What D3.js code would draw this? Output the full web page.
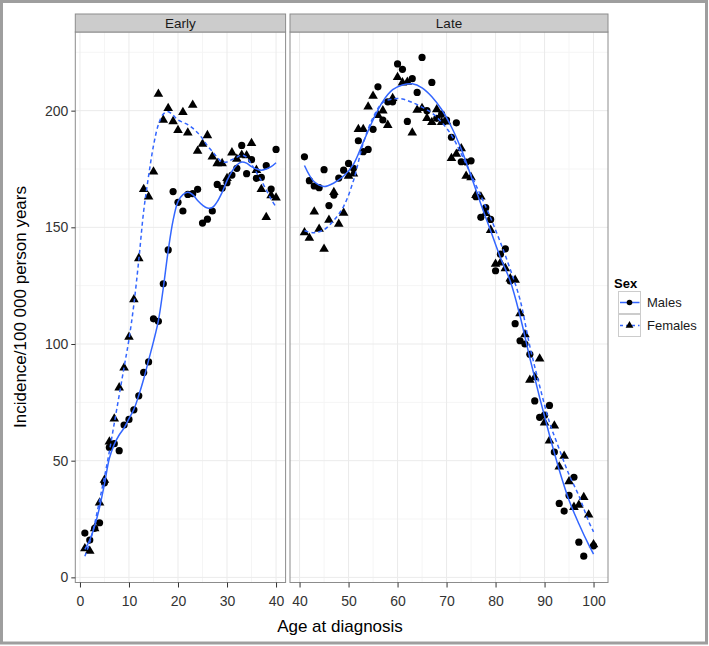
<!DOCTYPE html>
<html>
<head>
<meta charset="utf-8">
<script src="https://cdn.jsdelivr.net/npm/d3@7"></script>
<style>
  body { margin: 0; background: #fff; }
  svg { display: block; font-family: "Liberation Sans", Arial, sans-serif; }
</style>
</head>
<body>
<svg id="chart" width="709" height="646"></svg>
<script>
// incidence per 100 000, one value per age (index 0 = age 1)
var maleIncidence = [
  19, 16, 21, 23.4, 40.5, 55.7, 57.3, 54.3, 65.3, 67.7,
  71.8, 77.8, 87.8, 92.3, 110.8, 109.7, 125.8, 140.3, 165.3, 160.7,
  157, 164.1, 164.4, 166.3, 151.8, 153.5, 157, 168.4, 166.7, 169.1,
  172.4, 175.3, 185.1, 173, 179, 171, 171.4, 176.4, 166.4, 183.4,
  180.2, 170, 167.7, 167, 174.7, 159.3, 163.8, 171.1, 174.5, 177.4,
  175.3, 187.1, 182.4, 183.4, 192, 210.2, 196, 203.8, 203.8, 220,
  217.7, 195.4, 213.7, 207.8, 222.8, 200, 212.1, 196.7, 198.5, 196,
  188.6, 194.8, 178.1, 178, 178.5, 163.1, 154.3, 158.4, 153.4, 131.4,
  138.5, 140.8, 127, 108.7, 101.4, 100, 95.6, 75.6, 68.6, 69.5,
  73.7, 53.7, 31.7, 28.4, 35.1, 42.9, 15.1, 9.1, null, 13.5
];
var femaleIncidence = [
  12.4, 11.3, 21, 32, 41.7, 58.1, 68, 81.3, 89.8, 103,
  119.1, 136.7, 166.3, 163.1, 173.8, 207.1, 196, 201, 195.4, 191.6,
  199.3, 190.5, 202.4, 182.7, 185.7, 189.4, 180.2, 177.4, 177.4, 171,
  182, 179.3, 181, 180.8, 186, 174.5, 166.3, 154.3, 163.7, 162.7,
  147.8, 145.4, 156.7, 149.3, 140.7, 153.1, 165, 151.4, 156.2, 172,
  173, 192, 192, 201.7, 206.3, 198, 200, 193.8, 205.3, 214.3,
  212, 212.3, 190.5, 200.3, 201, 196.7, 195, 200.5, 195, 195.2,
  179.6, 181.4, 183.8, 172, 171.4, 163.8, 163.1, 156, 148.8, 134.3,
  134.8, 132.4, 128, 127.4, 113.1, 104.1, 84.6, 85.7, 93.7, 66.3,
  58.5, 65, 47.4, 52, 41.1, 30.1, 31, 34.3, 26.8, 14.1
];

// loess curves
var earlySmoothAges = [1, 2, 3, 4, 5, 6, 7, 8, 9, 10, 11, 12, 13, 14, 15, 16, 17, 18, 19, 20,
  21, 22, 23, 24, 25, 26, 27, 28, 29, 30, 31, 32, 33, 34, 35, 36, 37, 38, 39, 40];
var earlyMaleSmooth = [12, 16, 22, 30, 40, 51, 57, 61, 64, 68, 72, 78, 85, 93, 101, 110, 124, 140, 153, 161,
  164, 165, 164, 161.5, 159.5, 158.3, 158.5, 161, 165, 170, 174, 176.7, 178, 177.5, 176, 175, 174.5, 175, 176, 177.7];
var earlyFemaleSmooth = [9, 15, 23, 33, 43, 54, 66, 78, 90, 102, 117, 136, 157, 172, 185, 194, 198.5, 199.5, 198, 196,
  195, 194, 192.5, 190.5, 188, 185, 182.5, 180, 178, 178, 179, 180, 181, 180, 177, 173.5, 170, 166, 162, 158.8];
var lateSmoothAges = [41, 43, 45, 47, 49, 51, 53, 55, 57, 59, 61, 63, 65, 67, 69, 71, 73, 75, 77, 79,
  81, 83, 85, 87, 89, 91, 93, 95, 97, 99, 100];
var lateMaleSmooth = [176.5, 169.5, 167.5, 169, 172, 177, 186.5, 196, 204, 209, 211, 211.5, 209.8, 206, 200.5, 193, 183.5, 172, 160, 148.5,
  137, 127, 112, 94, 77, 61, 46, 33, 23, 14, 10];
var lateFemaleSmooth = [148.5, 147.7, 149, 153, 159, 170, 186, 197, 203.5, 205, 205, 203.5, 201.5, 199, 195, 189.5, 181.5, 172.5, 163.5, 154,
  143.5, 132, 119, 99, 82, 66.5, 55, 44, 35, 24, 19.5];

var panels = ["Early", "Late"];
var sexes = ["Males", "Females"];
var yTicks = [0, 50, 100, 150, 200];
var earlyTicks = [0, 10, 20, 30, 40];
var lateTicks = [40, 50, 60, 70, 80, 90, 100];

var blue = "#3366FF";
var svg = d3.select("#chart");

// outer frame
svg.append("rect")
  .attr("x", 1.5).attr("y", 1.5)
  .attr("width", 705).attr("height", 641.5)
  .attr("fill", "none").attr("stroke", "#9e9e9e").attr("stroke-width", 3);

var panelTop = 32, panelBottom = 582.5;
var y = d3.scaleLinear().domain([-2.2, 233.7]).range([panelBottom, panelTop]);

var panelDefs = [
  {name: panels[0], x: d3.scaleLinear().domain([-0.95, 41.95]).range([75.3, 285.6]), from: 1, to: 40,
   ticks: earlyTicks, sAges: earlySmoothAges, sM: earlyMaleSmooth, sF: earlyFemaleSmooth},
  {name: panels[1], x: d3.scaleLinear().domain([38.05, 102.95]).range([290, 608]), from: 41, to: 100,
   ticks: lateTicks, sAges: lateSmoothAges, sM: lateMaleSmooth, sF: lateFemaleSmooth}
];

var tri = d3.symbol().type(d3.symbolTriangle).size(40);
var triSmall = d3.symbol().type(d3.symbolTriangle).size(26);

panelDefs.forEach(function(p) {
  var x = p.x;
  var x0 = x.range()[0], x1 = x.range()[1];
  var g = svg.append("g");

  g.append("rect").attr("x", x0).attr("y", panelTop).attr("width", x1 - x0).attr("height", panelBottom - panelTop)
    .attr("fill", "#fff");

  // minor grid
  var minorX = [], minorY = [];
  for (var i = 0; i < p.ticks.length - 1; i++) minorX.push((p.ticks[i] + p.ticks[i + 1]) / 2);
  minorX.push(p.ticks[p.ticks.length - 1] + 5);
  for (var j = 0; j < yTicks.length; j++) minorY.push(yTicks[j] + 25);
  g.selectAll(".mx").data(minorX.filter(function(v) { return x(v) > x0 && x(v) < x1; }))
    .enter().append("line")
    .attr("x1", function(d) { return x(d); }).attr("x2", function(d) { return x(d); })
    .attr("y1", panelTop).attr("y2", panelBottom).attr("stroke", "#f5f5f5").attr("stroke-width", 1);
  g.selectAll(".my").data(minorY).enter().append("line")
    .attr("x1", x0).attr("x2", x1)
    .attr("y1", function(d) { return y(d); }).attr("y2", function(d) { return y(d); })
    .attr("stroke", "#f5f5f5").attr("stroke-width", 1);
  // major grid
  g.selectAll(".gx").data(p.ticks).enter().append("line")
    .attr("x1", function(d) { return x(d); }).attr("x2", function(d) { return x(d); })
    .attr("y1", panelTop).attr("y2", panelBottom).attr("stroke", "#ebebeb").attr("stroke-width", 1);
  g.selectAll(".gy").data(yTicks).enter().append("line")
    .attr("x1", x0).attr("x2", x1)
    .attr("y1", function(d) { return y(d); }).attr("y2", function(d) { return y(d); })
    .attr("stroke", "#ebebeb").attr("stroke-width", 1);

  // points
  var males = [], females = [];
  for (var a = p.from; a <= p.to; a++) {
    if (maleIncidence[a - 1] != null) males.push({age: a, v: maleIncidence[a - 1]});
    if (femaleIncidence[a - 1] != null) females.push({age: a, v: femaleIncidence[a - 1]});
  }
  g.selectAll(".m").data(males).enter().append("circle")
    .attr("cx", function(d) { return x(d.age); })
    .attr("cy", function(d) { return y(d.v); })
    .attr("r", 3.6).attr("fill", "#000");
  g.selectAll(".f").data(females).enter().append("path")
    .attr("d", tri)
    .attr("transform", function(d) { return "translate(" + x(d.age) + "," + y(d.v) + ")"; })
    .attr("fill", "#000");

  // smooth lines
  var line = d3.line().curve(d3.curveCatmullRom)
    .x(function(d, i) { return x(p.sAges[i]); })
    .y(function(d) { return y(d); });
  g.append("path").attr("d", line(p.sM)).attr("fill", "none")
    .attr("stroke", blue).attr("stroke-width", 1.5);
  g.append("path").attr("d", line(p.sF)).attr("fill", "none")
    .attr("stroke", blue).attr("stroke-width", 1.5).attr("stroke-dasharray", "4,3");

  // panel border
  g.append("rect").attr("x", x0).attr("y", panelTop).attr("width", x1 - x0).attr("height", panelBottom - panelTop)
    .attr("fill", "none").attr("stroke", "#8c8c8c").attr("stroke-width", 1);

  // strip
  g.append("rect").attr("x", x0).attr("y", 14).attr("width", x1 - x0).attr("height", panelTop - 14)
    .attr("fill", "#cccccc").attr("stroke", "#8c8c8c").attr("stroke-width", 1);
  g.append("text")
    .attr("x", (x0 + x1) / 2).attr("y", 23).attr("dy", "0.36em")
    .attr("text-anchor", "middle").attr("font-size", 13.5).attr("fill", "#1a1a1a")
    .text(p.name);

  // x axis
  var ax = svg.append("g").attr("transform", "translate(0," + panelBottom + ")")
    .call(d3.axisBottom(x).tickValues(p.ticks).tickSize(5).tickPadding(9));
  ax.select(".domain").remove();
  ax.selectAll("line").attr("stroke", "#333");
  ax.selectAll("text").attr("font-size", 14).attr("fill", "#333")
    .attr("font-family", "Liberation Sans, Arial, sans-serif");
});

// y axis
var ay = svg.append("g").attr("transform", "translate(75.3,0)")
  .call(d3.axisLeft(y).tickValues(yTicks).tickSize(4).tickPadding(3));
ay.select(".domain").remove();
ay.selectAll("line").attr("stroke", "#333");
ay.selectAll("text").attr("font-size", 14).attr("fill", "#333")
  .attr("font-family", "Liberation Sans, Arial, sans-serif");

// axis titles
svg.append("text").attr("x", 340).attr("y", 631.5)
  .attr("text-anchor", "middle").attr("font-size", 17).attr("fill", "#000")
  .text("Age at diagnosis");
svg.append("text").attr("transform", "translate(26,307) rotate(-90)")
  .attr("text-anchor", "middle").attr("font-size", 17).attr("fill", "#000")
  .text("Incidence/100 000 person years");

// legend
var lg = svg.append("g");
lg.append("text").attr("x", 614).attr("y", 288).attr("font-size", 13).attr("font-weight", "bold")
  .text("Sex");
sexes.forEach(function(s, i) {
  var ky = 291 + i * 23;
  lg.append("rect").attr("x", 618.5).attr("y", ky + 0.5).attr("width", 22).attr("height", 22)
    .attr("fill", "#fff").attr("stroke", "#cccccc");
  lg.append("line").attr("x1", 620).attr("x2", 639.5).attr("y1", ky + 11.5).attr("y2", ky + 11.5)
    .attr("stroke", blue).attr("stroke-width", 1.5)
    .attr("stroke-dasharray", i === 1 ? "3,3" : null);
  if (i === 0) {
    lg.append("circle").attr("cx", 629.5).attr("cy", ky + 11.5).attr("r", 2.8).attr("fill", "#000");
  } else {
    lg.append("path").attr("d", triSmall).attr("transform", "translate(629.5," + (ky + 11.5) + ")")
      .attr("fill", "#000");
  }
  lg.append("text").attr("x", 647).attr("y", ky + 11.5).attr("dy", "0.36em")
    .attr("font-size", 13).attr("fill", "#1a1a1a").text(s);
});
</script>
</body>
</html>
